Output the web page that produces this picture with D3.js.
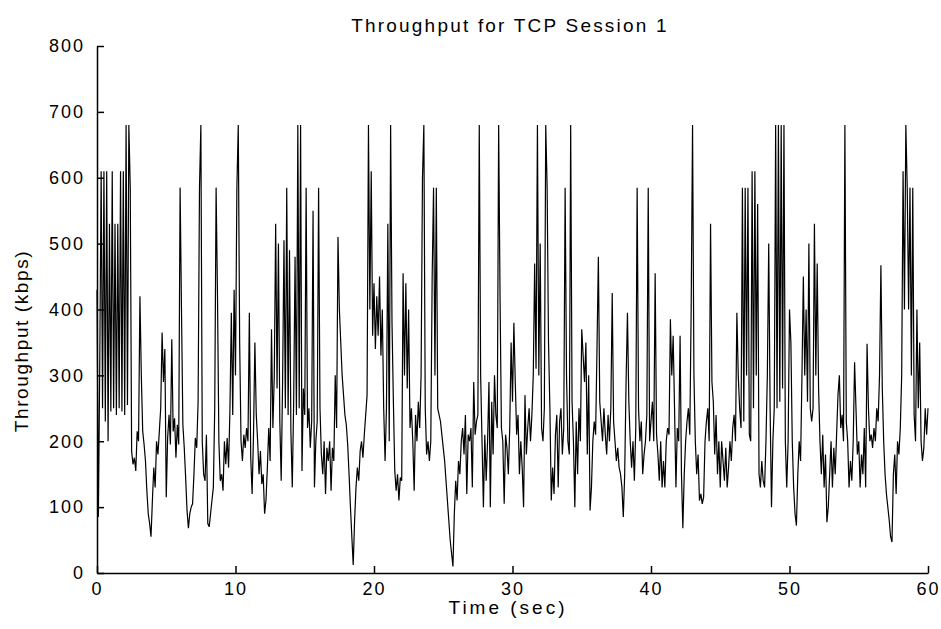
<!DOCTYPE html>
<html>
<head>
<meta charset="utf-8">
<script src="https://cdn.jsdelivr.net/npm/d3@7"></script>
<style>
  body { margin: 0; background: #fff; }
  text { font-family: "Liberation Sans", Arial, sans-serif; fill: #000; }
</style>
</head>
<body>
<div id="chart"></div>
<script>
// Throughput samples (kbps), one every 0.1 s, one line per second
var step = 0.1;
var throughput = [
    430, 85, 320, 610, 250, 610, 230, 610, 200, 530,
    245, 610, 250, 530, 240, 530, 250, 610, 245, 610,
    240, 680, 255, 680, 585, 185, 165, 175, 155, 215,
    200, 420, 300, 215, 195, 170, 125, 90, 75, 55,
    110, 160, 130, 200, 180, 215, 250, 365, 290, 340,
    115, 205, 240, 195, 355, 215, 235, 175, 225, 195,
    585, 400, 225, 190, 145, 95, 68, 90, 100, 105,
    150, 205, 190, 260, 585, 680, 200, 150, 140, 210,
    75, 70, 90, 110, 130, 250, 585, 420, 200, 140,
    150, 125, 200, 165, 205, 160, 250, 395, 240, 430,
    300, 585, 680, 350, 200, 170, 210, 190, 220, 200,
    395, 175, 120, 210, 350, 240, 200, 150, 185, 135,
    150, 90, 110, 160, 220, 170, 370, 220, 300, 530,
    280, 500, 230, 140, 290, 505, 250, 585, 240, 490,
    215, 130, 260, 480, 240, 680, 250, 680, 155, 280,
    240, 585, 220, 250, 190, 230, 550, 130, 200, 230,
    585, 250, 180, 150, 200, 120, 190, 170, 200, 125,
    190, 170, 300, 220, 510, 400, 350, 300, 270, 240,
    225, 195, 150, 100, 55, 12, 80, 130, 160, 140,
    185, 200, 175, 210, 240, 270, 680, 400, 610, 360,
    440, 340, 420, 360, 450, 330, 400, 250, 170, 250,
    530, 200, 680, 380, 260, 155, 125, 150, 110, 145,
    140, 455, 300, 440, 280, 400, 220, 250, 200, 125,
    240, 200, 260, 220, 300, 600, 680, 250, 180, 200,
    170, 200, 450, 585, 300, 585, 250, 240, 230, 210,
    190, 170, 140, 110, 80, 50, 30, 10, 90, 140,
    110, 170, 150, 200, 220, 180, 240, 120, 210, 200,
    220, 130, 290, 210, 230, 240, 680, 300, 200, 100,
    210, 140, 200, 290, 100, 260, 180, 300, 240, 220,
    680, 420, 220, 200, 105, 210, 190, 150, 220, 350,
    260, 380, 290, 210, 240, 150, 200, 160, 100, 270,
    180, 220, 250, 200, 240, 300, 470, 310, 680, 300,
    500, 220, 200, 250, 680, 585, 350, 250, 110, 160,
    120, 210, 240, 130, 230, 250, 180, 220, 585, 300,
    200, 180, 680, 260, 200, 100, 230, 150, 250, 200,
    370, 330, 290, 350, 180, 300, 95, 130, 200, 230,
    210, 340, 480, 260, 230, 200, 250, 210, 180, 240,
    200, 250, 425, 230, 200, 170, 190, 160, 150, 130,
    85, 150, 290, 395, 260, 200, 160, 200, 140, 220,
    585, 250, 200, 230, 150, 180, 200, 240, 585, 200,
    230, 260, 200, 455, 210, 180, 140, 200, 130, 170,
    130, 200, 220, 210, 385, 300, 360, 250, 130, 220,
    200, 360, 150, 68, 150, 200, 230, 250, 210, 400,
    680, 300, 200, 150, 180, 110, 120, 105, 115, 200,
    230, 250, 200, 530, 290, 260, 180, 240, 150, 200,
    130, 200, 170, 140, 190, 130, 160, 200, 170, 220,
    240, 200, 395, 300, 250, 220, 585, 230, 585, 300,
    585, 210, 200, 610, 250, 610, 300, 560, 150, 130,
    170, 140, 130, 200, 300, 500, 250, 100, 200, 250,
    680, 250, 680, 260, 680, 280, 680, 200, 130, 200,
    400, 350, 200, 130, 90, 72, 150, 200, 170, 300,
    450, 300, 400, 260, 500, 250, 230, 250, 530, 300,
    470, 280, 200, 150, 210, 130, 180, 77, 100, 150,
    200, 130, 190, 150, 210, 270, 300, 220, 240, 200,
    680, 230, 200, 130, 170, 140, 200, 320, 250, 180,
    200, 130, 180, 150, 220, 130, 348, 250, 200, 210,
    190, 220, 200, 250, 230, 300, 467, 280, 200, 150,
    120, 100, 80, 55, 47, 150, 180, 120, 200, 180,
    220, 300, 610, 400, 680, 585, 400, 585, 300, 585,
    240, 200, 400, 250, 350, 200, 170, 190, 250, 210,
    250
];

var xTicks = [0, 10, 20, 30, 40, 50, 60];
var yTicks = [0, 100, 200, 300, 400, 500, 600, 700, 800];

var width = 941;
var height = 629;
var margin = {top: 46, right: 13, bottom: 56, left: 97};

var svg = d3.select('#chart')
    .append('svg')
    .attr('width', width)
    .attr('height', height);

var xScale = d3.scaleLinear()
    .domain([0, 60])
    .range([margin.left, width - margin.right]);

var yScale = d3.scaleLinear()
    .domain([0, 800])
    .range([height - margin.bottom, margin.top]);

// the trace
var line = d3.line()
    .x(function (d, i) { return xScale(i * step); })
    .y(function (d) { return yScale(d); });

svg.append('path')
    .datum(throughput)
    .attr('fill', 'none')
    .attr('stroke', '#000')
    .attr('stroke-width', 1.2)
    .attr('d', line);

// axes, ticks pointing inward
var xAxis = d3.axisBottom(xScale)
    .tickValues(xTicks)
    .tickSizeInner(-7)
    .tickSizeOuter(0)
    .tickPadding(9);

var yAxis = d3.axisLeft(yScale)
    .tickValues(yTicks)
    .tickSizeInner(-7)
    .tickSizeOuter(0)
    .tickPadding(12);

var gx = svg.append('g')
    .attr('transform', 'translate(0,' + (height - margin.bottom) + ')')
    .call(xAxis);

var gy = svg.append('g')
    .attr('transform', 'translate(' + margin.left + ',0)')
    .call(yAxis);

[gx, gy].forEach(function (g) {
    g.selectAll('path, line').attr('stroke', '#000').attr('stroke-width', 1.5);
    g.selectAll('text')
        .attr('font-size', 18)
        .attr('letter-spacing', '2px')
        .attr('font-family', '"Liberation Sans", Arial, sans-serif')
        .attr('fill', '#000');
});

// titles
svg.append('text')
    .attr('x', 510)
    .attr('y', 32)
    .attr('text-anchor', 'middle')
    .attr('font-size', 19)
    .attr('letter-spacing', '2.2px')
    .text('Throughput for TCP Session 1');

svg.append('text')
    .attr('x', 508)
    .attr('y', 614)
    .attr('text-anchor', 'middle')
    .attr('font-size', 19)
    .attr('letter-spacing', '3px')
    .text('Time (sec)');

svg.append('text')
    .attr('transform', 'translate(28,341) rotate(-90)')
    .attr('text-anchor', 'middle')
    .attr('font-size', 19)
    .attr('letter-spacing', '1.6px')
    .text('Throughput (kbps)');
</script>
</body>
</html>
